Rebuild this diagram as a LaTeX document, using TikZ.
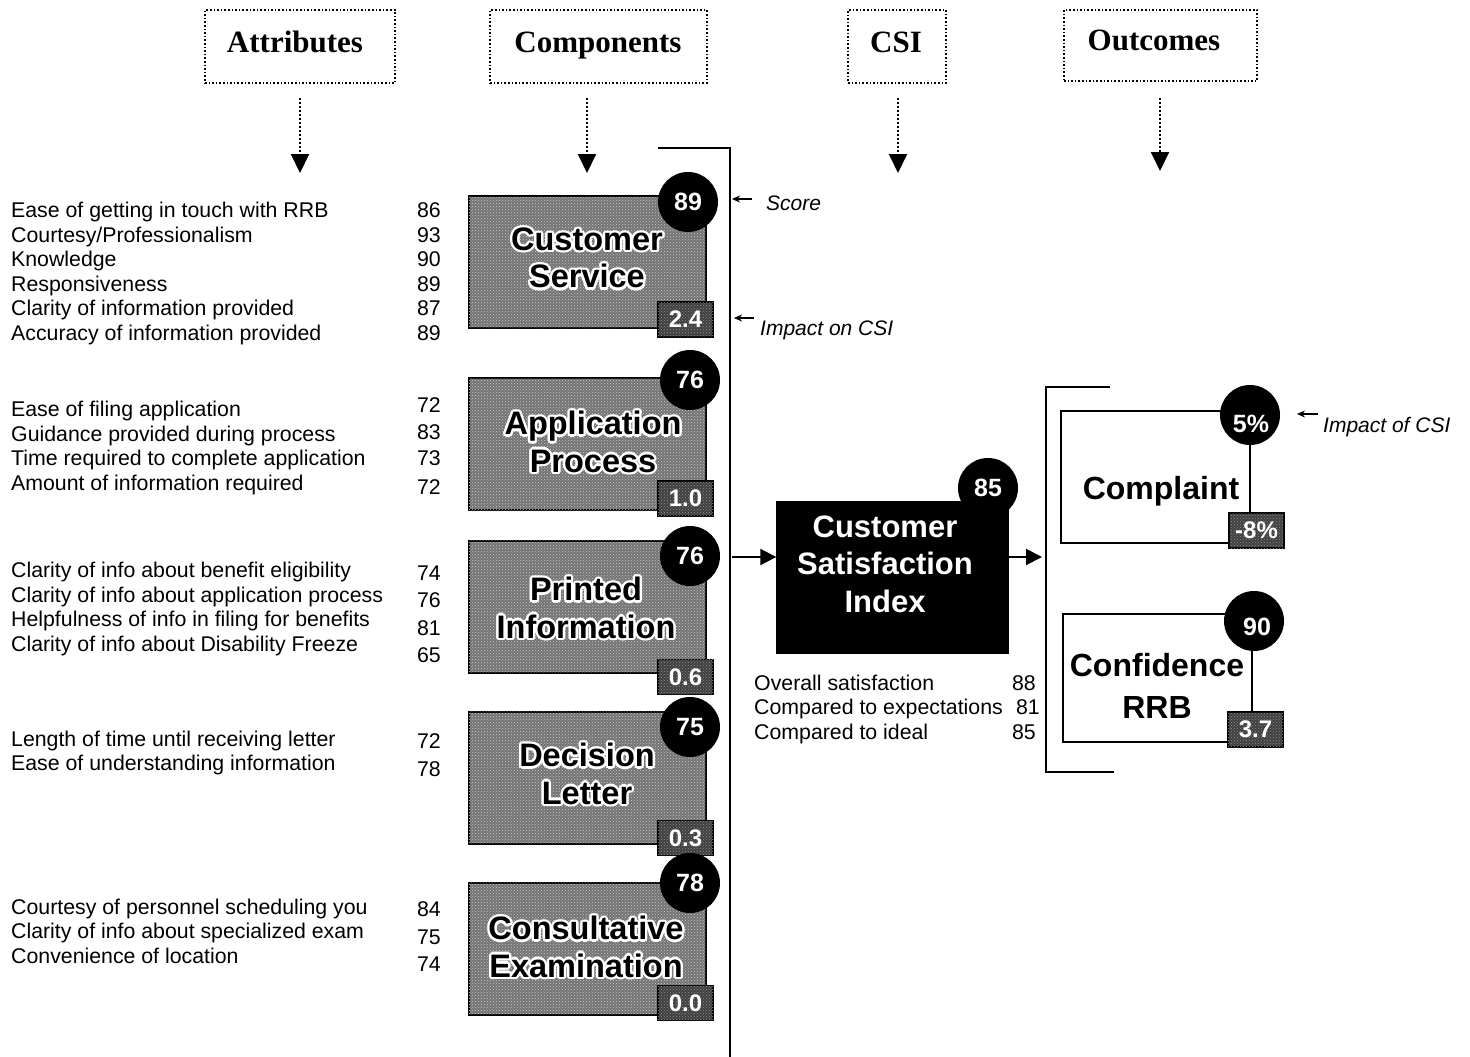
\documentclass[tikz,border=0pt]{standalone}
\usepackage{fontspec}
\setmainfont{Liberation Sans}
\newfontfamily\tnr{Liberation Serif}
\usetikzlibrary{calc,patterns,arrows.meta}
\newcommand\halotxt[4]{%
  \foreach \ang [count=\k] in {0,30,...,330}{%
    \node[#4, text=white] (#1h\k) at ($(#2)+(\ang:2.4pt)$) {#3};}%
  \node[#4] (#1) at (#2) {#3};}
\tikzset{
  hdr/.style={draw, dotted, line width=1.6pt, inner sep=0, minimum height=73pt},
  hdrtext/.style={anchor=base, font=\tnr\bfseries\fontsize{31}{34}\selectfont, inner sep=0},
  dotarrow/.style={dotted, line width=2pt, -{Triangle[length=19pt,width=18pt]}},
  attr/.style={anchor=base west, font=\fontsize{21.3}{24}\selectfont, inner sep=0},
  num/.style={anchor=base east, font=\fontsize{21.3}{24}\selectfont, inner sep=0},
  note/.style={anchor=base west, font=\itshape\fontsize{21}{24}\selectfont, inner sep=0},
  noteArrow/.style={line width=1.2pt, -{Stealth[length=8pt,width=7pt]}},
  compbox/.style={draw, line width=2pt, fill=black!55, postaction={pattern=crosshatch dots, pattern color=white!80!black}, minimum width=237pt, minimum height=132pt, inner sep=0},
  comptext/.style={align=center, font=\bfseries\fontsize{32.5}{37.5}\selectfont, inner sep=0},
  circ/.style={circle, fill=black, minimum size=60pt, inner sep=0, text=white, font=\bfseries\fontsize{25}{25}\selectfont},
  circtext/.style={text=white, font=\bfseries\fontsize{25}{25}\selectfont, inner sep=0},
  imp/.style={draw=black, line width=1.5pt, fill=black!75, postaction={pattern=crosshatch dots, pattern color=black!45}, text=white, font=\bfseries\fontsize{24}{24}\selectfont, minimum width=55pt, minimum height=35pt, inner sep=0},
  bigarrow/.style={line width=2pt, -{Triangle[length=16pt,width=16pt]}},
  outbox/.style={draw, line width=1.5pt, minimum width=189pt, inner sep=0},
  outtext/.style={align=center, font=\bfseries\fontsize{32}{42}\selectfont, inner sep=0},
}
\begin{document}
\begin{tikzpicture}[x=1pt,y=-1pt]
\useasboundingbox (0,0) rectangle (1470,1057);
% headers
\node[hdr, minimum width=190pt] (hA) at (300,46.5) {};
\node[hdrtext] (hAt) at (295,53) {Attributes};
\node[hdr, minimum width=217pt] (hC) at (598.5,46.5) {};
\node[hdrtext] (hCt) at (598,53) {Components};
\node[hdr, minimum width=98pt] (hS) at (897,46.5) {};
\node[hdrtext] (hSt) at (896,53) {CSI};
\node[hdr, minimum width=193pt, minimum height=71pt] (hO) at (1160.5,45.5) {};
\node[hdrtext] (hOt) at (1154,51) {Outcomes};
\coordinate (dA1) at (300,98); \coordinate (dA2) at (300,173);
\coordinate (dC1) at (587,98); \coordinate (dC2) at (587,173);
\coordinate (dS1) at (898,98); \coordinate (dS2) at (898,173);
\coordinate (dO1) at (1160,98); \coordinate (dO2) at (1160,171);
\draw[dotarrow] (dA1) -- (dA2);
\draw[dotarrow] (dC1) -- (dC2);
\draw[dotarrow] (dS1) -- (dS2);
\draw[dotarrow] (dO1) -- (dO2);
% main bracket line
\coordinate (vt0) at (658,148); \coordinate (vt1) at (730,148); \coordinate (vt2) at (730,1057);
\draw[line width=1.5pt] (vt0) -- (vt1) -- (vt2);
% attributes lists
\node[attr] (a11) at (11,217) {Ease of getting in touch with RRB};
\node[attr] (a12) at (11,242) {Courtesy/Professionalism};
\node[attr] (a13) at (11,266) {Knowledge};
\node[attr] (a14) at (11,291) {Responsiveness};
\node[attr] (a15) at (11,315) {Clarity of information provided};
\node[attr] (a16) at (11,340) {Accuracy of information provided};
\node[num] (n11) at (441,217) {86};
\node[num] (n12) at (441,242) {93};
\node[num] (n13) at (441,266) {90};
\node[num] (n14) at (441,291) {89};
\node[num] (n15) at (441,315) {87};
\node[num] (n16) at (441,340) {89};
\node[attr] (a21) at (11,416) {Ease of filing application};
\node[attr] (a22) at (11,441) {Guidance provided during process};
\node[attr] (a23) at (11,465) {Time required to complete application};
\node[attr] (a24) at (11,490) {Amount of information required};
\node[num] (n21) at (441,412) {72};
\node[num] (n22) at (441,439) {83};
\node[num] (n23) at (441,465) {73};
\node[num] (n24) at (441,494) {72};
\node[attr] (a31) at (11,577) {Clarity of info about benefit eligibility};
\node[attr] (a32) at (11,602) {Clarity of info about application process};
\node[attr] (a33) at (11,626) {Helpfulness of info in filing for benefits};
\node[attr] (a34) at (11,651) {Clarity of info about Disability Freeze};
\node[num] (n31) at (441,580) {74};
\node[num] (n32) at (441,607) {76};
\node[num] (n33) at (441,635) {81};
\node[num] (n34) at (441,662) {65};
\node[attr] (a41) at (11,746) {Length of time until receiving letter};
\node[attr] (a42) at (11,770) {Ease of understanding information};
\node[num] (n41) at (441,748) {72};
\node[num] (n42) at (441,776) {78};
\node[attr] (a51) at (11,914) {Courtesy of personnel scheduling you};
\node[attr] (a52) at (11,938) {Clarity of info about specialized exam};
\node[attr] (a53) at (11,963) {Convenience of location};
\node[num] (n51) at (441,916) {84};
\node[num] (n52) at (441,944) {75};
\node[num] (n53) at (441,971) {74};
% components
\node[compbox] (c1) at (587.5,262) {};
\halotxt{c1t}{587,258}{Customer\\Service}{comptext}
\node[circ] (c1s) at (688,202) {89};
\node[imp] (c1i) at (685.5,319.5) {2.4};
\node[compbox] (c2) at (587.5,444) {};
\halotxt{c2t}{593,442}{Application\\Process}{comptext}
\node[circ] (c2s) at (690,380) {76};
\node[imp] (c2i) at (685.5,498.5) {1.0};
\node[compbox] (c3) at (587.5,606.5) {};
\halotxt{c3t}{586,608}{Printed\\Information}{comptext}
\node[circ] (c3s) at (690,556) {76};
\node[imp] (c3i) at (685.5,677) {0.6};
\node[compbox] (c4) at (587.5,777.5) {};
\halotxt{c4t}{587,774}{Decision\\Letter}{comptext}
\node[circ] (c4s) at (690,727) {75};
\node[imp] (c4i) at (685.5,838) {0.3};
\node[compbox] (c5) at (587.5,948.5) {};
\halotxt{c5t}{586,947}{Consultative\\Examination}{comptext}
\node[circ] (c5s) at (690,883) {78};
\node[imp] (c5i) at (685.5,1003) {0.0};
% notes
\coordinate (sc1) at (752,199); \coordinate (sc2) at (732,199);
\draw[noteArrow] (sc1) -- (sc2);
\node[note] (scT) at (766,210) {Score};
\coordinate (ic1) at (754,318); \coordinate (ic2) at (734,318);
\draw[noteArrow] (ic1) -- (ic2);
\node[note] (icT) at (760,335) {Impact on CSI};
% CSI
\node[draw, fill=black, minimum width=232pt, minimum height=152pt, inner sep=0] (csi) at (892.5,577) {};
\node[align=center, text=white, font=\bfseries\fontsize{31}{37.5}\selectfont, inner sep=0] (csiT) at (885,564) {Customer\\Satisfaction\\Index};
\node[circ] (csiS) at (988,488) {85};
\coordinate (vin) at (732,557);
\coordinate (oin) at (1042,557);
\draw[bigarrow] (vin) -- (vin -| csi.west);
\draw[bigarrow] (oin -| csi.east) -- (oin);
\node[attr] (q1) at (754,690) {Overall satisfaction};
\node[attr] (q2) at (754,714) {Compared to expectations};
\node[attr] (q3) at (754,739) {Compared to ideal};
\node[num] (qn1) at (1036,690) {88};
\node[num] (qn2) at (1040,714) {81};
\node[num] (qn3) at (1036,739) {85};
% outcomes bracket
\coordinate (ob0) at (1110,387); \coordinate (ob1) at (1046,387);
\coordinate (ob2) at (1046,772); \coordinate (ob3) at (1114,772);
\draw[line width=1.5pt] (ob0) -- (ob1) -- (ob2) -- (ob3);
% complaint
\node[outbox, minimum height=132pt] (cp) at (1155.5,477) {};
\node[outtext] (cpT) at (1161,491) {Complaint};
\node[circ] (cpS) at (1250,415) {};
\node[circtext] (cpSt) at (1251,424) {5\%};
\node[imp] (cpI) at (1256.5,530.5) {-8\%};
% confidence
\node[outbox, minimum height=128pt] (cf) at (1157.5,678) {};
\node[outtext] (cfT) at (1157,686) {Confidence\\RRB};
\node[circ] (cfS) at (1254,621) {};
\node[circtext] (cfSt) at (1257,627) {90};
\node[imp] (cfI) at (1255.5,729.5) {3.7};
% impact of CSI
\coordinate (oc1) at (1318,414); \coordinate (oc2) at (1297,414);
\draw[noteArrow] (oc1) -- (oc2);
\node[note] (ocT) at (1323,432) {Impact of CSI};
\end{tikzpicture}
\end{document}
